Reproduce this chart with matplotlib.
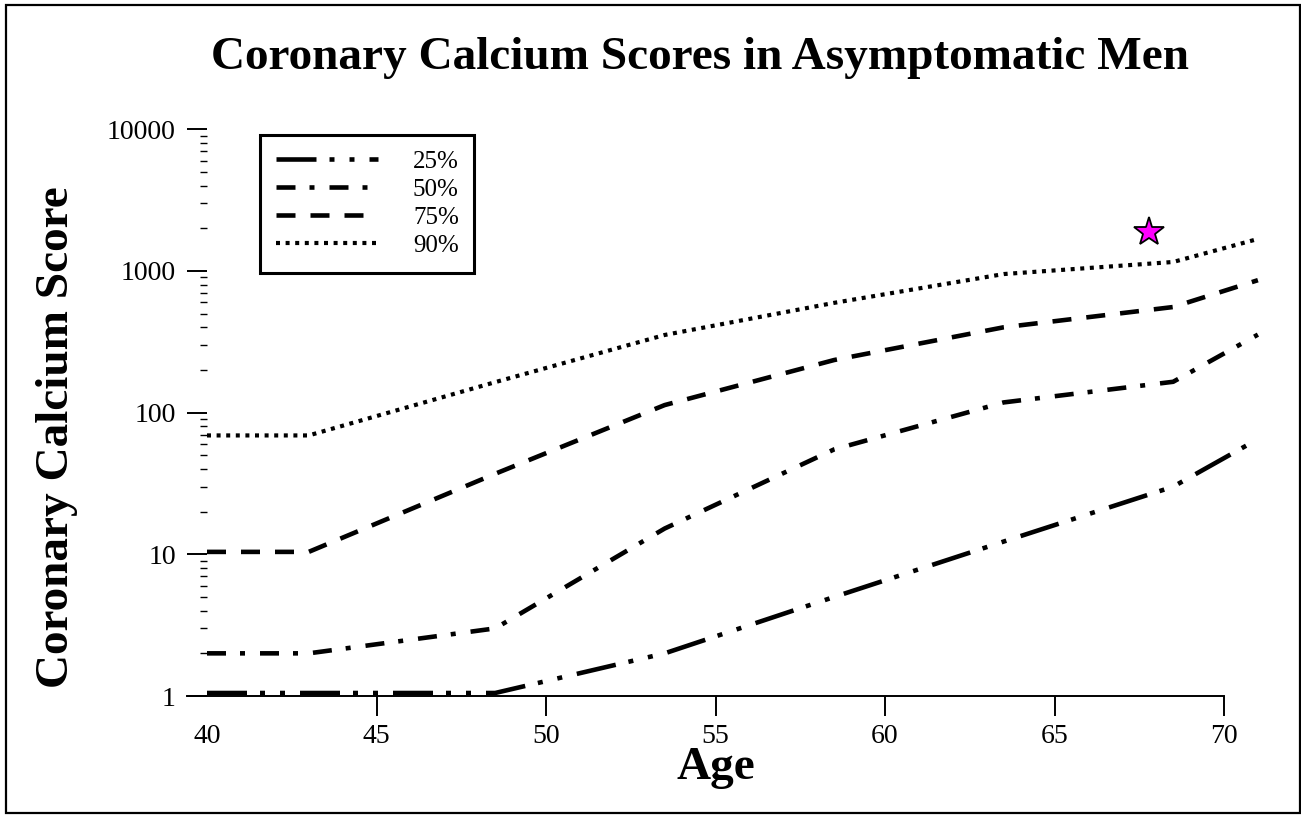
import matplotlib
matplotlib.use("Agg")
import matplotlib.pyplot as plt
from matplotlib.ticker import LogLocator, FixedLocator, FuncFormatter, NullFormatter
from matplotlib.patches import Rectangle
from matplotlib.lines import Line2D

# ---------------- data ----------------
ages = [40, 43, 48.5, 53.5, 58.5, 63.5, 68.5, 71]
p25 = [1.05, 1.05, 1.05, 2.0, 5.0, 12.3, 30, 65]
p50 = [2.0, 2.0, 3.0, 15.2, 55, 118, 165, 355]
p75 = [10.4, 10.4, 37, 113, 235, 400, 556, 860]
p90 = [69, 69, 164, 353, 595, 950, 1156, 1680]
series_labels = ["25%", "50%", "75%", "90%"]
star_age = [67.8]
star_score = [1890]
x_ticks = [40, 45, 50, 55, 60, 65, 70]
y_ticks = [1, 10, 100, 1000, 10000]
title = "Coronary Calcium Scores in Asymptomatic Men"
xlabel = "Age"
ylabel = "Coronary Calcium Score"

# ---------------- style ----------------
plt.rcParams["font.family"] = ["Liberation Serif", "DejaVu Serif"]
plt.rcParams["lines.scale_dashes"] = False

W, H = 1301, 815
fig = plt.figure(figsize=(W / 100, H / 100), dpi=100)


def fx(px):
    return px / W


def fy(py):
    return 1 - py / H


X0, X1, Y0, Y1 = 207, 1224, 696, 129.2
ax = fig.add_axes([fx(X0), fy(Y0), (X1 - X0) / W, (Y0 - Y1) / H])

k = 0.72  # px -> pt
dash_styles = [
    (0, (40 * k, 13 * k, 5 * k, 15 * k, 5 * k, 15 * k)),
    (0, (19 * k, 14 * k, 5 * k, 15 * k)),
    (0, (19 * k, 15 * k)),
    (0, (4 * k, 5.6 * k)),
]
widths = [3.3, 3.3, 3.3, 3.0]

for vals, lab, ls, lw in zip([p25, p50, p75, p90], series_labels, dash_styles, widths):
    ax.plot(ages, vals, color="black", linestyle=ls, linewidth=lw,
            dash_capstyle="butt", label=lab, clip_on=False)

ax.plot(star_age, star_score, linestyle="none", marker="*", markersize=22,
        markerfacecolor="#ff00ff", markeredgecolor="black", markeredgewidth=1.3,
        clip_on=False)

ax.set_yscale("log")
ax.set_xlim(40, 70)
ax.set_ylim(1, 10000)

ax.yaxis.set_major_locator(FixedLocator(y_ticks))
ax.yaxis.set_major_formatter(FuncFormatter(lambda v, p: "%d" % round(v)))
ax.yaxis.set_minor_locator(LogLocator(base=10, subs=range(2, 10)))
ax.yaxis.set_minor_formatter(NullFormatter())
ax.xaxis.set_major_locator(FixedLocator(x_ticks))

for s in ["top", "right", "left", "bottom"]:
    ax.spines[s].set_visible(False)

# x axis line, extended left to the end of the y major ticks
ax.add_line(Line2D([-20 / (X1 - X0), 1], [0, 0], transform=ax.transAxes,
                   color="black", linewidth=1.4, clip_on=False))

ax.tick_params(axis="y", which="major", direction="out", length=14.4, width=1.4,
               labelsize=20, pad=8)
ax.tick_params(axis="y", which="minor", direction="out", length=5, width=1.0)
ax.tick_params(axis="x", which="major", direction="out", length=14.4, width=1.4,
               labelsize=20, pad=6)
ax.xaxis.get_major_ticks()[0].tick1line.set_visible(False)

ax.set_xlabel(xlabel, fontsize=34, fontweight="bold")
ax.xaxis.set_label_coords(0.5, (Y0 - 779) / (Y0 - Y1))
ax.xaxis.label.set_verticalalignment("baseline")

ax.set_ylabel(ylabel, fontsize=34, fontweight="bold")
ax.yaxis.set_label_coords((57 - X0) / (X1 - X0), (Y0 - 437) / (Y0 - Y1))
ax.yaxis.label.set_verticalalignment("center")
ax.yaxis.label.set_horizontalalignment("center")

fig.text(fx(700), fy(69), title, fontsize=34, fontweight="bold",
         ha="center", va="baseline")

leg = ax.legend(loc="upper left",
                bbox_to_anchor=((260 - X0) / (X1 - X0), (Y0 - 135) / (Y0 - Y1)),
                borderaxespad=0, fontsize=18, handlelength=4.1, handletextpad=1.4,
                borderpad=0.62, labelspacing=0.22, fancybox=False, framealpha=1)
leg.get_frame().set_edgecolor("black")
leg.get_frame().set_linewidth(2.2)

fig.add_artist(Rectangle((fx(6), fy(813)), fx(1300) - fx(6), fy(5) - fy(813),
                         transform=fig.transFigure, fill=False,
                         edgecolor="black", linewidth=1.6))

fig.savefig("out.png", dpi=100)
